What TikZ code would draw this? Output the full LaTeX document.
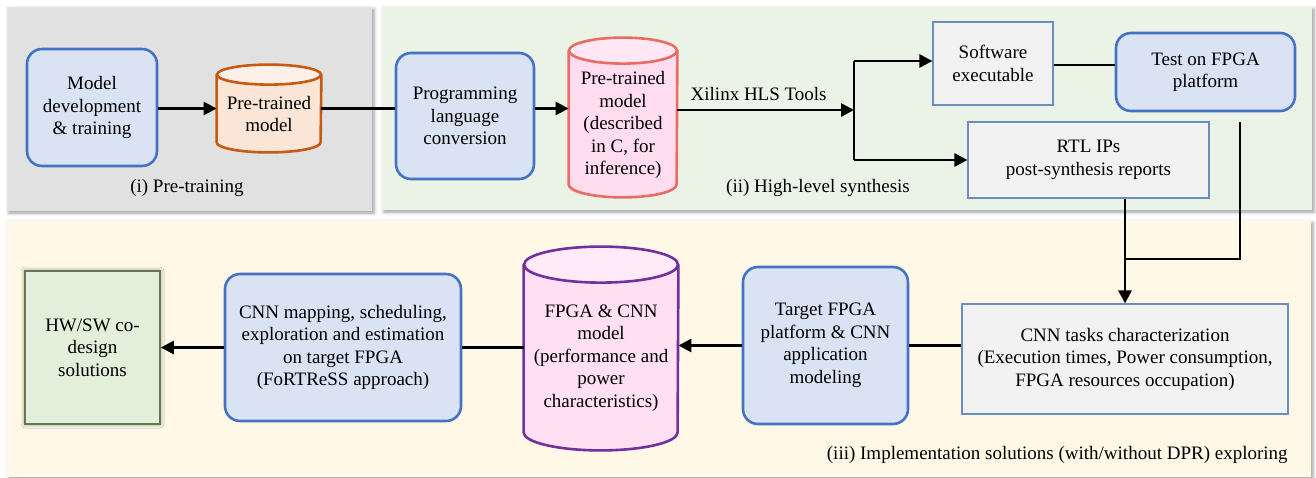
\documentclass[tikz,border=0pt]{standalone}
\usepackage{fontspec}
\setmainfont{Liberation Serif}
\usetikzlibrary{calc,arrows.meta,shadows.blur}

\definecolor{panelgray}{HTML}{E1E1E1}
\definecolor{panelgreen}{HTML}{EBF3E7}
\definecolor{panelcream}{HTML}{FFF8E7}
\definecolor{procfill}{HTML}{DAE3F3}
\definecolor{procline}{HTML}{4472C4}
\definecolor{docfill}{HTML}{F2F2F2}
\definecolor{docline}{HTML}{6C8EBF}
\definecolor{orfill}{HTML}{FBE5D6}
\definecolor{ortop}{HTML}{FDF0E8}
\definecolor{orline}{HTML}{C55A11}
\definecolor{pkfill}{HTML}{FFDDEE}
\definecolor{pktop}{HTML}{FFE8F3}
\definecolor{pkline}{HTML}{EA6B66}
\definecolor{mgfill}{HTML}{FFE0F3}
\definecolor{mgtop}{HTML}{FFEAF7}
\definecolor{mgline}{HTML}{7030A0}
\definecolor{hwfill}{HTML}{E2EFDA}
\definecolor{hwline}{HTML}{5E7A4E}

% cylinder drawn around a rectangular node: #1 node, #2 half width, #3 vertical radius of the ends,
% #4 body colour, #5 top colour, #6 outline colour
\newcommand{\drumshape}[6]{%
  \fill[#4] ($(#1.north west)+(0,-#3)$) -- ($(#1.south west)+(0,#3)$)
     arc[start angle=180,end angle=360,x radius=#2,y radius=#3]
     -- ($(#1.north east)+(0,-#3)$)
     arc[start angle=0,end angle=180,x radius=#2,y radius=#3] -- cycle;
  \draw[#6,line width=1.3pt] ($(#1.north west)+(0,-#3)$) -- ($(#1.south west)+(0,#3)$)
     arc[start angle=180,end angle=360,x radius=#2,y radius=#3]
     -- ($(#1.north east)+(0,-#3)$);
  \draw[#6,line width=1.3pt,fill=#5] ($(#1.north)+(0,-#3)$) ellipse[x radius=#2,y radius=#3];
}

\tikzset{
  every node/.style={font=\fontsize{9.5}{11.25}\selectfont, align=center, inner sep=0pt},
  panel/.style={draw=none, blur shadow={shadow xshift=1pt, shadow yshift=-1pt, shadow blur steps=3, shadow blur extra rounding=0pt, shadow opacity=40}},
  procbox/.style={draw=procline, fill=procfill, line width=1.3pt, rounded corners=7.5pt},
  docbox/.style={draw=docline, fill=docfill, line width=0.6pt},
  drumbody/.style={draw=none, fill=none},
  wire/.style={draw=black, line width=1.4pt},
  flow/.style={wire, -{Triangle[length=6.5pt,width=6.5pt]}},
}

\begin{document}
\begin{tikzpicture}[x=0.5pt,y=0.5pt]
\useasboundingbox (0,0) rectangle (1316,-477);

% stage panels
\fill[panelgray, panel] (7,-7) rectangle (372,-211);
\fill[panelgreen, panel] (382,-7) rectangle (1312,-210);
\fill[panelcream, panel] (7,-221) rectangle (1311,-477);

\node (lbi) at (187,-188) {(i) Pre-training};
\node (lbii) at (818,-188) {(ii) High-level synthesis};
\node[anchor=east] (lbiii) at (1288,-455) {(iii) Implementation solutions (with/without DPR) exploring};

% (i) pre-training
\node[procbox, minimum width=65pt, minimum height=58.5pt] (dev) at (92,-107.5)
  {Model\\development\\\& training};
\node[drumbody, minimum width=52pt, minimum height=43.5pt] (ptm) at (269,-108.5) {};
\drumshape{ptm}{26pt}{5pt}{orfill}{ortop}{orline}
\node (ptmt) at (269,-114) {Pre-trained\\model};

% (ii) high-level synthesis
\node[procbox, minimum width=69pt, minimum height=63pt] (plc) at (465,-116)
  {Programming\\language\\conversion};
\node[drumbody, minimum width=54pt, minimum height=79.5pt] (pm) at (623,-117.5) {};
\drumshape{pm}{27pt}{6.5pt}{pkfill}{pktop}{pkline}
\node (pmt) at (623,-125) {Pre-trained\\model\\(described\\in C, for\\inference)};

\node[docbox, minimum width=60pt, minimum height=41.5pt] (sw) at (993,-63.5)
  {Software\\executable};
\node[procbox, minimum width=89.5pt, minimum height=39pt] (tst) at (1205.5,-72)
  {Test on FPGA\\platform};
\node[docbox, minimum width=120.5pt, minimum height=38pt] (rtl) at (1088.5,-160)
  {RTL IPs\\post-synthesis reports};

\coordinate (hls) at (854,-110);
\coordinate (tq) at (1240,-122);
\coordinate (mrg) at (1125,-259);

% (iii) implementation
\node[docbox, minimum width=163pt, minimum height=55pt] (cnt) at (1125,-359)
  {CNN tasks characterization\\(Execution times, Power consumption,\\FPGA resources occupation)};
\node[procbox, minimum width=82.5pt, minimum height=78.5pt] (tfp) at (825.5,-345.5)
  {Target FPGA\\platform \& CNN\\application\\modeling};
\node[drumbody, minimum width=77pt, minimum height=101.5pt] (fcm) at (601,-348.5) {};
\drumshape{fcm}{38.5pt}{9pt}{mgfill}{mgtop}{mgline}
\node (fcmt) at (601,-358) {FPGA \& CNN\\model\\(performance and\\power\\characteristics)};
\node[procbox, minimum width=118pt, minimum height=73.5pt] (cmp) at (343,-347.5)
  {CNN mapping, scheduling,\\exploration and estimation\\on target FPGA\\(FoRTReSS approach)};
\node[draw=hwline, fill=hwfill, line width=0.8pt, minimum width=67.5pt, minimum height=76.5pt,
  blur shadow={shadow xshift=0pt, shadow yshift=0pt, shadow blur radius=2pt, shadow opacity=50}]
  (hw) at (92.5,-347.5) {HW/SW co-\\design\\solutions};

% connectors
\draw[flow] (dev.east |- ptm.west) -- (ptm.west);
\draw[wire] (ptm.east) -- (ptm.east -| plc.west);
\draw[flow] (plc.east |- ptm.east) -- (pm.west |- ptm.east);
\draw[flow] (pm.east |- hls) -- node[above=4pt, pos=0.46] (hlst) {Xilinx HLS Tools} (hls);
\draw[wire] (hls |- 0,-61) -- (hls |- rtl.west);
\draw[flow] (hls |- 0,-61) -- (sw.west |- 0,-61);
\draw[flow] (hls |- rtl.west) -- (rtl.west);
\draw[wire] (sw.east |- 0,-65) -- (tst.west |- 0,-65);
\draw[wire] (tq) |- (mrg);
\draw[flow] (rtl.south -| cnt.north) -- (cnt.north);
\draw[wire] (cnt.west |- tfp.east) -- (tfp.east);
\draw[flow] (tfp.west) -- (tfp.west -| fcm.east);
\draw[wire] (fcm.west |- cmp.east) -- (cmp.east);
\draw[flow] (cmp.west) -- (hw.east);
\end{tikzpicture}
\end{document}
